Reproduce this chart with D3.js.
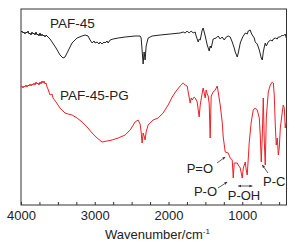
<!DOCTYPE html>
<html>
<head>
<meta charset="utf-8">
<script src="https://cdn.jsdelivr.net/npm/d3@7"></script>
<style>
  body { margin: 0; background: #fff; }
  svg text { font-family: Arial, "Liberation Sans", sans-serif; fill: #222; }
</style>
</head>
<body>
<svg id="chart" width="303" height="250"></svg>
<script>
// FTIR spectra, transmittance in arbitrary units (curves are offset)
const wnPAF = [4000,3986,3973,3959,3946,3932,3919,3905,3891,3878,3864,3851,3837,3824,3810,3796,3783,3769,3756,3742,3729,3715,3701,3688,3674,3661,3634,3606,3579,3525,3471,3430,3403,3362,3308,3240,3172,3131,3091,3063,3036,3009,2996,2968,2941,2928,2901,2873,2860,2833,2819,2792,2751,2683,2588,2453,2385,2371,2358,2344,2331,2317,2303,2276,2222,2113,1977,1842,1801,1774,1747,1720,1692,1665,1638,1625,1597,1584,1570,1543,1530,1502,1475,1448,1435,1421,1394,1353,1326,1299,1272,1244,1217,1190,1163,1136,1109,1095,1068,1054,1027,1000,986,959,932,919,892,878,864,837,824,797,769,742,728,715,701,688,674,647,620,593,579,552,525,511,484,457,444,417,403];
const tPAF = [86.5,87,86,86.5,85.5,86.5,86,87,85.5,86,85,86.5,85.5,86,85,86.5,85,85.5,84.5,86,84.5,85.5,84.5,85,84,85,84,83,81.5,78.5,75,73.5,74,77,81,83.5,84.5,85,84.5,82.5,81,82,81,81.5,80.5,81.5,80.5,81.5,81,82,81,82.5,83,83.5,84,84.5,84.5,83.5,77.5,70.5,76.5,72.5,79.5,83.5,84.5,85,85.5,86,86.5,86,87,86,87,86,86.5,84.5,81.5,83,82.5,87.5,88.5,84.5,80,77,79.5,78.5,83,83.5,84.5,83,84,82.5,84,84.5,84,81.5,78.5,76.5,74,76,81,83.5,84.5,86,85.5,87,87.5,86,85,83.5,81.5,80.5,77.5,73.5,72.5,76.5,79,81,79.5,81.5,82.5,82,83,83.5,83,84,84,85,84.5,85.5,83.5];

const wnPG = [4000,3986,3973,3959,3946,3932,3919,3905,3891,3878,3864,3851,3837,3824,3810,3796,3783,3769,3756,3742,3729,3715,3701,3688,3674,3661,3647,3634,3606,3579,3566,3525,3471,3403,3362,3308,3240,3172,3104,3036,2968,2901,2833,2765,2683,2588,2520,2453,2412,2385,2371,2358,2344,2331,2317,2303,2276,2209,2140,2073,2005,1950,1896,1842,1801,1774,1747,1733,1706,1692,1679,1652,1638,1611,1584,1570,1543,1530,1502,1489,1475,1462,1448,1435,1421,1394,1367,1339,1326,1299,1272,1258,1231,1190,1163,1136,1122,1109,1068,1054,1027,1000,986,959,946,932,905,878,851,824,797,769,756,742,728,715,701,688,674,661,647,620,593,579,566,552,539,525,511,498,484,457,444,430,417,403];
const tPG = [59,59.5,58.5,59.5,59,60,59,60,59.5,60.5,59.5,60.5,60,61,60,61.5,60.5,61,60,61.5,60.5,62,61,62,60.5,61,59,58,55,55.5,53.5,51.5,48.5,46,45.5,45,43.5,41.5,39,36,33.5,31.5,32,32.5,33.5,35,37.5,41.5,42.5,40.5,36.5,31,36,34.5,32.5,36.5,40,42.5,43.5,46,50,54,57,59.5,61,60,59.5,56.5,51,53.5,52.5,54,53.5,51.5,44,50,56,58.5,53.5,57.5,55.5,54.5,50.5,33.5,54.5,56.5,57.5,59.5,56.5,50,41.5,34,26.5,26,23.5,22.5,13.5,21,21,20,18.5,13.5,18.5,21.5,17.5,15,31.5,41.5,47.5,48.5,47.5,43.5,35,21.5,35,53.5,31.5,20,43.5,50,56.5,60,61.5,61,55,40,30,33.5,25,28.5,38.5,46.5,50,48.5,38.5,41.5];

const xTicks = d3.range(4000, 400, -250);
const xLabels = [4000, 3000, 2000, 1000];

const seriesNames = ["PAF-45", "PAF-45-PG"];
const seriesColors = ["#222222", "#ec2026"];

// annotations: label, arrow tip (wavenumber, value)
const annoLabels = ["P=O", "P-O", "P-C"];
const annoTipWn = [1231, 1204, 728];
const annoTipT = [24, 11.5, 20];
const pohRange = [1054, 864];

const svg = d3.select("#chart");
const mLeft = 21, mRight = 286.5, mTop = 9, mBottom = 205;

const x = d3.scaleLinear().domain([4000, 400]).range([mLeft, mRight]);
const y = d3.scaleLinear().domain([0, 98]).range([mBottom, mTop]);

const defs = svg.append("defs");
defs.append("marker")
    .attr("id", "ah")
    .attr("viewBox", "0 0 10 10")
    .attr("refX", 9).attr("refY", 5)
    .attr("markerWidth", 4).attr("markerHeight", 4)
    .attr("orient", "auto-start-reverse")
  .append("path")
    .attr("d", "M0,1 L10,5 L0,9 Z")
    .attr("fill", "#333");

// x axis with inward ticks
const axis = svg.append("g")
    .attr("transform", "translate(0," + mBottom + ")")
    .call(d3.axisBottom(x)
        .tickValues(xTicks)
        .tickSizeInner(-3)
        .tickSizeOuter(0)
        .tickPadding(6)
        .tickFormat(d => xLabels.includes(d) ? d : ""));
axis.select(".domain").remove();
axis.selectAll("line").attr("stroke", "#333");
axis.selectAll("text")
    .style("font-size", "13px")
    .style("font-family", "Arial, 'Liberation Sans', sans-serif")
    .attr("fill", "#222");

// frame
svg.append("rect")
    .attr("x", mLeft).attr("y", mTop)
    .attr("width", mRight - mLeft).attr("height", mBottom - mTop)
    .attr("fill", "none")
    .attr("stroke", "#333")
    .attr("stroke-width", 1);

const line = d3.line()
    .x(d => x(d[0]))
    .y(d => y(d[1]));

const series = [d3.zip(wnPAF, tPAF), d3.zip(wnPG, tPG)];

svg.append("g")
    .selectAll("path")
    .data(series)
    .join("path")
        .attr("d", line)
        .attr("fill", "none")
        .attr("stroke", (d, i) => seriesColors[i])
        .attr("stroke-width", 1)
        .attr("stroke-linejoin", "round");

// series labels
svg.append("text").attr("x", 50).attr("y", 28)
    .style("font-size", "13.5px").text(seriesNames[0]);
svg.append("text").attr("x", 60).attr("y", 100)
    .style("font-size", "13.5px").text(seriesNames[1]);

// annotation arrows
const annoText = [
    { x: 213, y: 173, anchor: "end", from: [217, 163] },
    { x: 217, y: 196, anchor: "end", from: [218, 188] },
    { x: 263, y: 186, anchor: "start", from: [268, 173] }
];
annoText.forEach((a, i) => {
    svg.append("line")
        .attr("x1", a.from[0]).attr("y1", a.from[1])
        .attr("x2", x(annoTipWn[i])).attr("y2", y(annoTipT[i]))
        .attr("stroke", "#333").attr("stroke-width", 0.8)
        .attr("marker-end", "url(#ah)");
    svg.append("text")
        .attr("x", a.x).attr("y", a.y)
        .attr("text-anchor", a.anchor)
        .style("font-size", "13px")
        .text(annoLabels[i]);
});

// P-OH double arrow
svg.append("line")
    .attr("x1", x(pohRange[0])).attr("x2", x(pohRange[1]))
    .attr("y1", 186).attr("y2", 186)
    .attr("stroke", "#333").attr("stroke-width", 0.8)
    .attr("marker-start", "url(#ah)")
    .attr("marker-end", "url(#ah)");
svg.append("text")
    .attr("x", 244).attr("y", 200)
    .attr("text-anchor", "middle")
    .style("font-size", "13px")
    .text("P-OH");

// axis title
const title = svg.append("text")
    .attr("x", 105).attr("y", 239)
    .style("font-size", "13px");
title.append("tspan").text("Wavenumber/cm");
title.append("tspan")
    .attr("dy", -5)
    .style("font-size", "8px")
    .text("-1");
</script>
</body>
</html>
